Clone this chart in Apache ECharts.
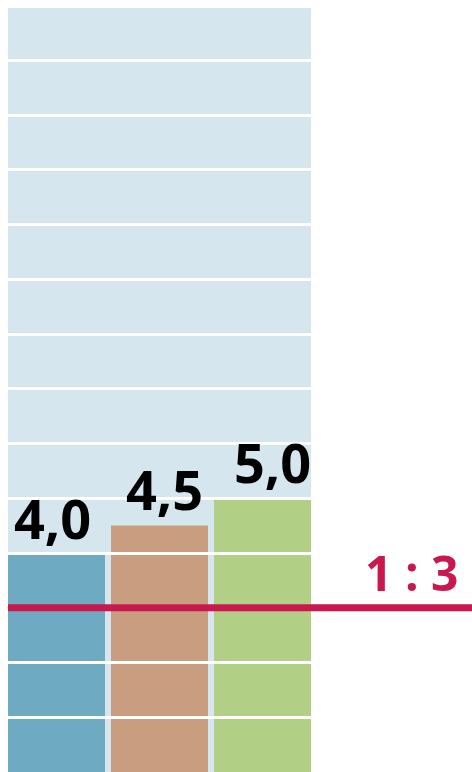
<!DOCTYPE html>
<html>
<head>
<meta charset="utf-8">
<script src="https://cdn.jsdelivr.net/npm/echarts@6/dist/echarts.min.js"></script>
<style>
  html, body { margin: 0; padding: 0; background: #fff; }
  #chart { width: 472px; height: 772px; }
</style>
</head>
<body>
<div id="chart"></div>
<script>
// data
const categories = ['A', 'B', 'C']
const values = [4.0, 4.5, 5.0]
const ratioValue = 3
const ratioText = '1 : 3'
const yMax = 13.95

// styles
const barColors = ['#6eaac1', '#c99d80', '#b1d086']
const labelShift = [[-4, 2], [5, 0], [10, 0]]
const red = '#c8184e'

const myChart = echarts.init(document.getElementById('chart'))

const gridTop = 8
const gridHeight = 765.6

const option = {
  animation: false,
  grid: [
    // background + gridlines
    { left: 8, width: 303, top: gridTop, height: gridHeight, show: true, backgroundColor: '#d5e6ee', borderWidth: 0 },
    // bars
    { left: 5, width: 309, top: gridTop, height: gridHeight },
    // ratio line
    { left: 8, right: 0, top: gridTop, height: gridHeight }
  ],
  xAxis: [
    { gridIndex: 0, type: 'category', data: categories, show: false },
    { gridIndex: 1, type: 'category', data: categories, show: false },
    { gridIndex: 2, type: 'category', data: ['s', 'e'], boundaryGap: false, show: false }
  ],
  yAxis: [
    {
      gridIndex: 0, type: 'value', min: 0, max: yMax, interval: 1, z: 2,
      axisLine: { show: false }, axisTick: { show: false }, axisLabel: { show: false },
      splitLine: { show: true, showMinLine: false, showMaxLine: false, lineStyle: { color: '#ffffff', width: 3 } }
    },
    { gridIndex: 1, type: 'value', min: 0, max: yMax, show: false, splitLine: { show: false } },
    { gridIndex: 2, type: 'value', min: 0, max: yMax, show: false, splitLine: { show: false } }
  ],
  series: [
    {
      type: 'bar',
      xAxisIndex: 1, yAxisIndex: 1,
      z: 1,
      barWidth: 97,
      data: values.map((v, i) => ({ value: v, itemStyle: { color: barColors[i] } }))
    },
    {
      // labels above the gridlines
      type: 'bar',
      xAxisIndex: 1, yAxisIndex: 1,
      z: 3,
      barWidth: 97,
      barGap: '-100%',
      itemStyle: { color: 'transparent' },
      data: values.map((v, i) => ({
        value: v,
        label: {
          show: true,
          position: 'top',
          distance: 4,
          offset: labelShift[i],
          formatter: (p) => p.value.toFixed(1).replace('.', ','),
          fontFamily: 'Open Sans',
          fontWeight: 'bold',
          fontSize: 54,
          lineHeight: 54,
          color: '#000'
        }
      }))
    },
    {
      type: 'line',
      xAxisIndex: 2, yAxisIndex: 2,
      z: 4,
      symbol: 'circle',
      symbolSize: 1,
      itemStyle: { color: red },
      lineStyle: { color: red, width: 7 },
      data: [
        { value: ratioValue },
        {
          value: ratioValue,
          label: {
            show: true,
            position: 'left',
            distance: 13,
            offset: [0, -30],
            formatter: ratioText,
            fontFamily: 'Open Sans',
            fontWeight: 'bold',
            fontSize: 48,
            color: red
          }
        }
      ]
    }
  ]
}

option && myChart.setOption(option)
</script>
</body>
</html>
